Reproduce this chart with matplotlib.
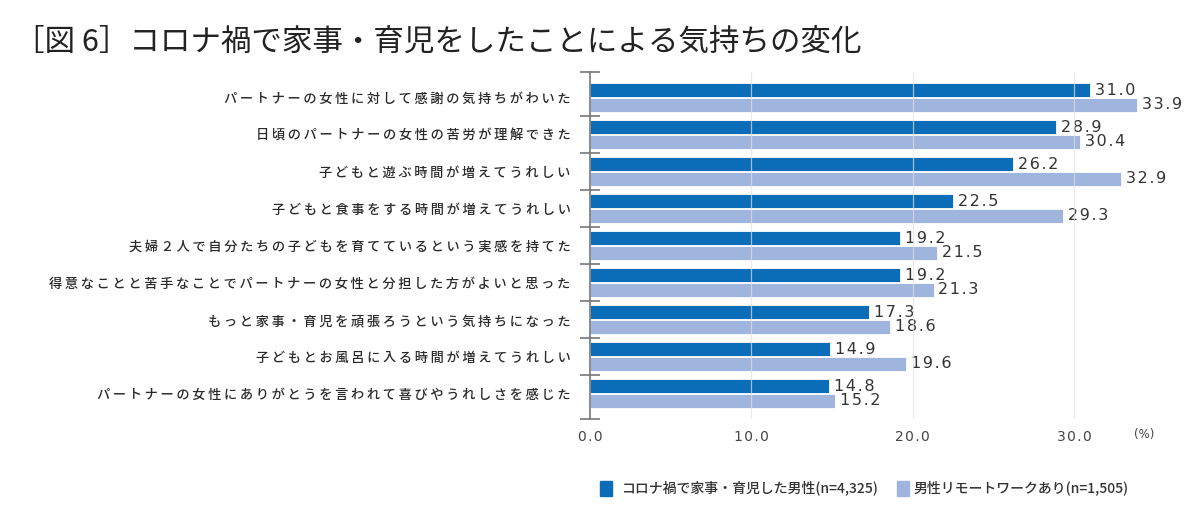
import numpy as np
import matplotlib
matplotlib.use("Agg")
import matplotlib.pyplot as plt

plt.rcParams['font.family'] = ['Noto Sans CJK JP', 'DejaVu Sans']

# data
categories = [
    "パートナーの女性に対して感謝の気持ちがわいた",
    "日頃のパートナーの女性の苦労が理解できた",
    "子どもと遊ぶ時間が増えてうれしい",
    "子どもと食事をする時間が増えてうれしい",
    "夫婦２人で自分たちの子どもを育てているという実感を持てた",
    "得意なことと苦手なことでパートナーの女性と分担した方がよいと思った",
    "もっと家事・育児を頑張ろうという気持ちになった",
    "子どもとお風呂に入る時間が増えてうれしい",
    "パートナーの女性にありがとうを言われて喜びやうれしさを感じた",
]
corona_men = [31.0, 28.9, 26.2, 22.5, 19.2, 19.2, 17.3, 14.9, 14.8]
remote_men = [33.9, 30.4, 32.9, 29.3, 21.5, 21.3, 18.6, 19.6, 15.2]
series_names = ["コロナ禍で家事・育児した男性(n=4,325)", "男性リモートワークあり(n=1,505)"]
x_ticks = [0, 10, 20, 30]

dark = '#0b6db7'
light = '#9fb5dd'


def spaced(s, sep="\u2009"):
    return sep.join(s)


fig = plt.figure(figsize=(12, 5.14), dpi=100)
ax = fig.add_axes([0.4917, 0.1848, 0.4705, 0.675])

y = np.arange(len(categories))
off = 0.2
h = 0.37
ax.barh(y - off, corona_men, height=h, color=dark, edgecolor='white', linewidth=0.6, zorder=2)
ax.barh(y + off, remote_men, height=h, color=light, edgecolor='white', linewidth=0.6, zorder=2)

for i in range(len(categories)):
    ax.text(corona_men[i] + 0.3, y[i] - off, spaced(f"{corona_men[i]:.1f}", "\u200a"),
            va='center', ha='left', fontsize=11.5, color='#333333', family='DejaVu Sans')
    ax.text(remote_men[i] + 0.3, y[i] + off, spaced(f"{remote_men[i]:.1f}", "\u200a"),
            va='center', ha='left', fontsize=11.5, color='#333333', family='DejaVu Sans')

ax.set_xlim(0, 35)
ax.set_ylim(len(categories) - 1 + 0.69, -0.69)

# grid
for xv in x_ticks[1:]:
    ax.axvline(xv, color='#e2e2e2', lw=0.9, zorder=3, alpha=0.7)

for s in ['top', 'right', 'bottom']:
    ax.spines[s].set_visible(False)
ax.spines['left'].set_color('#777777')
ax.spines['left'].set_linewidth(1.2)

# y ticks at category boundaries
bounds = [-0.69] + [i + 0.5 for i in range(len(categories) - 1)] + [len(categories) - 1 + 0.69]
ax.set_yticks(bounds)
ax.set_yticklabels([])
ax.tick_params(axis='y', direction='inout', length=14, width=1.2, color='#777777')
ax.set_yticks(y, minor=True)
ax.set_yticklabels([spaced(c) for c in categories], minor=True, fontsize=9.5, color='#2a2a2a',
                   fontweight='medium')
ax.tick_params(axis='y', which='minor', length=0, pad=14)

ax.set_xticks(x_ticks)
ax.set_xticklabels([spaced(f"{v:.1f}", "\u200a") for v in x_ticks], fontsize=10, color='#444444',
                   family='DejaVu Sans')
ax.tick_params(axis='x', length=0, pad=8)
ax.text(33.7, -0.045, "(%)", transform=ax.get_xaxis_transform(), fontsize=8.5,
        color='#444444', ha='left', va='center', family='DejaVu Sans')

# title
fig.text(0.012, 0.918, "［図 6］コロナ禍で家事・育児をしたことによる気持ちの変化",
         fontsize=22, color='#222222', va='center', ha='left')

# legend
fig.patches.append(plt.Rectangle((600 / 1200, 1 - 496 / 514), 12 / 1200, 15 / 514,
                                 transform=fig.transFigure, color=dark))
fig.text(622 / 1200, 1 - 488 / 514, series_names[0], fontsize=10, color='#333333',
         va='center', fontweight='medium')
fig.patches.append(plt.Rectangle((897 / 1200, 1 - 496 / 514), 12 / 1200, 15 / 514,
                                 transform=fig.transFigure, color=light))
fig.text(914 / 1200, 1 - 488 / 514, series_names[1], fontsize=10, color='#333333',
         va='center', fontweight='medium')

fig.savefig("out.png", dpi=100)
